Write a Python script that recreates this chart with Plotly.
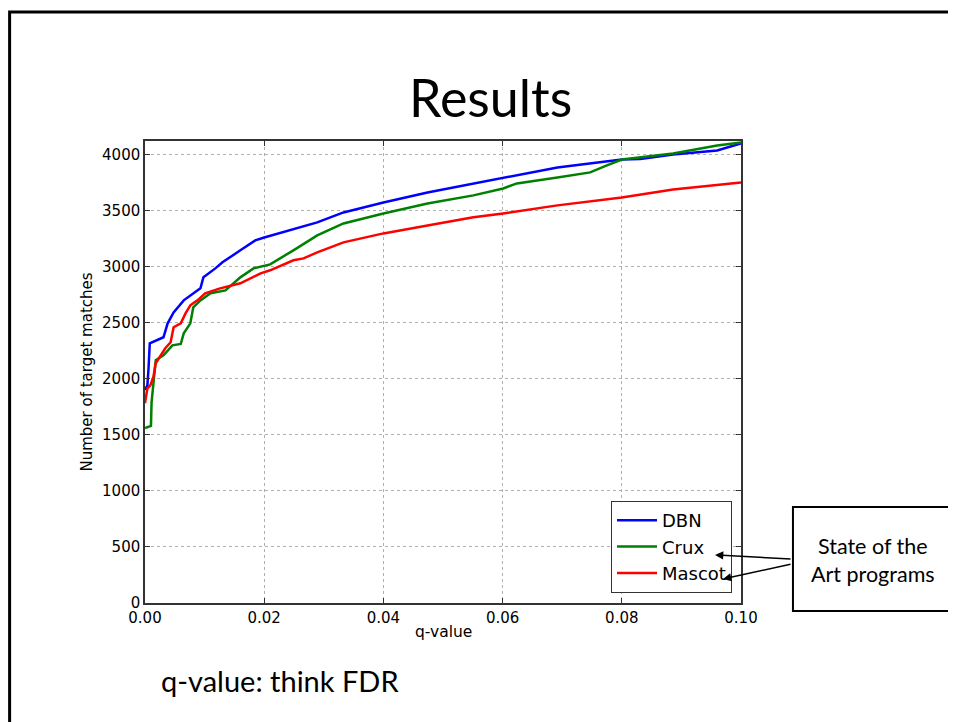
import plotly.graph_objects as go

# ---------------- data ----------------
dbn_q = [0.0000, 0.0004, 0.0006, 0.0008, 0.0031, 0.0038, 0.0048, 0.0065, 0.0093, 0.0098,
         0.0118, 0.0130, 0.0160, 0.0185, 0.0200, 0.0289, 0.0333, 0.0400, 0.0474, 0.0551,
         0.0601, 0.0692, 0.0800, 0.0831, 0.0886, 0.0960, 0.1000]
dbn_v = [1900, 1940, 2100, 2316, 2370, 2494, 2592, 2699, 2806, 2904,
         2984, 3038, 3145, 3234, 3260, 3394, 3483, 3572, 3661, 3740,
         3795, 3884, 3955, 3960, 4000, 4036, 4098]

crux_q = [0.0000, 0.0010, 0.0011, 0.0018, 0.0031, 0.0046, 0.0060, 0.0065, 0.0076, 0.0081,
          0.0093, 0.0110, 0.0135, 0.0160, 0.0182, 0.0195, 0.0210, 0.0249, 0.0277, 0.0289,
          0.0333, 0.0400, 0.0474, 0.0551, 0.0601, 0.0624, 0.0692, 0.0747, 0.0775, 0.0800,
          0.0886, 0.0960, 0.1000]
crux_v = [1560, 1580, 1790, 2165, 2209, 2298, 2310, 2405, 2494, 2637,
          2699, 2762, 2788, 2904, 2984, 3000, 3020, 3145, 3234, 3278,
          3385, 3474, 3563, 3635, 3697, 3742, 3795, 3840, 3902, 3955,
          4009, 4080, 4107]

mascot_q = [0.0000, 0.0004, 0.0009, 0.0014, 0.0018, 0.0026, 0.0034, 0.0043, 0.0048, 0.0060,
            0.0068, 0.0076, 0.0088, 0.0101, 0.0126, 0.0160, 0.0194, 0.0210, 0.0249, 0.0266,
            0.0289, 0.0333, 0.0400, 0.0474, 0.0551, 0.0601, 0.0692, 0.0800, 0.0886, 0.1000]
mascot_v = [1782, 1915, 1942, 2013, 2138, 2209, 2272, 2325, 2459, 2494,
            2583, 2655, 2699, 2762, 2806, 2851, 2940, 2967, 3056, 3073,
            3127, 3216, 3296, 3367, 3439, 3474, 3546, 3617, 3688, 3750]

series_names = ["DBN", "Crux", "Mascot"]
x_ticks = [0.00, 0.02, 0.04, 0.06, 0.08, 0.10]
y_ticks = [0, 500, 1000, 1500, 2000, 2500, 3000, 3500, 4000]

# ---------------- layout geometry (page pixels) ----------------
OFF = 8                      # browser body margin
W, H = 956 - OFF, 722 - OFF  # figure size so it fits the window
PL, PR, PT, PB = 144.5, 741, 141, 603   # plot area edges in page pixels


def px(x):
    return (x - PL) / (PR - PL)


def py(y):
    return (PB - y) / (PB - PT)


fig = go.Figure()
for name, q, v, col in zip(series_names,
                           [dbn_q, crux_q, mascot_q],
                           [dbn_v, crux_v, mascot_v],
                           ["#0000ff", "#008000", "#ff0000"]):
    fig.add_trace(go.Scatter(x=q, y=v, mode="lines", name=name,
                             line=dict(color=col, width=2.5)))

axis_font = dict(family="DejaVu Sans", size=15, color="#000000")
common = dict(showline=True, linecolor="#333333", linewidth=1.5, mirror="allticks",
              ticks="inside", ticklen=5, tickcolor="#333333",
              showgrid=True, gridcolor="#b0b0b0", griddash="dot", gridwidth=1,
              zeroline=False, tickfont=axis_font)
fig.update_xaxes(range=[0, 0.1], tickvals=x_ticks, tickformat=".2f", **common)
fig.update_yaxes(range=[0, 4120], tickvals=y_ticks, **common)

fig.update_layout(
    width=W, height=H,
    margin=dict(l=PL - OFF, r=W - (PR - OFF), t=PT - OFF, b=H - (PB - OFF), autoexpand=False),
    paper_bgcolor="white", plot_bgcolor="white",
    showlegend=True,
    legend=dict(x=px(732), y=py(593), xanchor="right", yanchor="bottom",
                bgcolor="white", bordercolor="#333333", borderwidth=1,
                font=dict(family="DejaVu Sans", size=18, color="#000000"),
                itemwidth=40, tracegroupgap=0),
)

annotations = [
    dict(text="Results", x=px(490), y=py(97), font=dict(family="Lato", size=52, color="black")),
    dict(text="q-value: think FDR", x=px(280), y=py(680),
         font=dict(family="Lato", size=29, color="black")),
    dict(text="q-value", x=px(443), y=py(632), font=dict(family="DejaVu Sans", size=15.5, color="black")),
    dict(text="Number of target matches", x=px(86), y=py(372), textangle=-90,
         font=dict(family="DejaVu Sans", size=15, color="black")),
    dict(text="State of the<br>Art programs", x=px(873), y=py(560),
         font=dict(family="Lato", size=21.5, color="black")),
]
for a in annotations:
    a.update(xref="paper", yref="paper", showarrow=False, xanchor="center", yanchor="middle")
    fig.add_annotation(**a)

# arrows from box to legend entries
for (x0, y0, x1, y1) in [(792, 559, 715, 555), (792, 564, 723, 579)]:
    fig.add_annotation(xref="paper", yref="paper", x=px(x1), y=py(y1),
                       axref="pixel", ayref="pixel", ax=x0 - x1, ay=y0 - y1,
                       showarrow=True, arrowhead=2, arrowsize=1.1, arrowwidth=1.5,
                       arrowcolor="black", text="")

shapes = [
    # slide border
    dict(type="rect", x0=px(9), x1=px(990), y0=py(12), y1=py(760),
         line=dict(color="black", width=3), fillcolor="rgba(0,0,0,0)"),
    # annotation box
    dict(type="rect", x0=px(793), x1=px(952), y0=py(507), y1=py(611),
         line=dict(color="black", width=2), fillcolor="white"),
]
for s in shapes:
    s.update(xref="paper", yref="paper", layer="above")
    fig.add_shape(**s)

fig.write_html("out.html")
